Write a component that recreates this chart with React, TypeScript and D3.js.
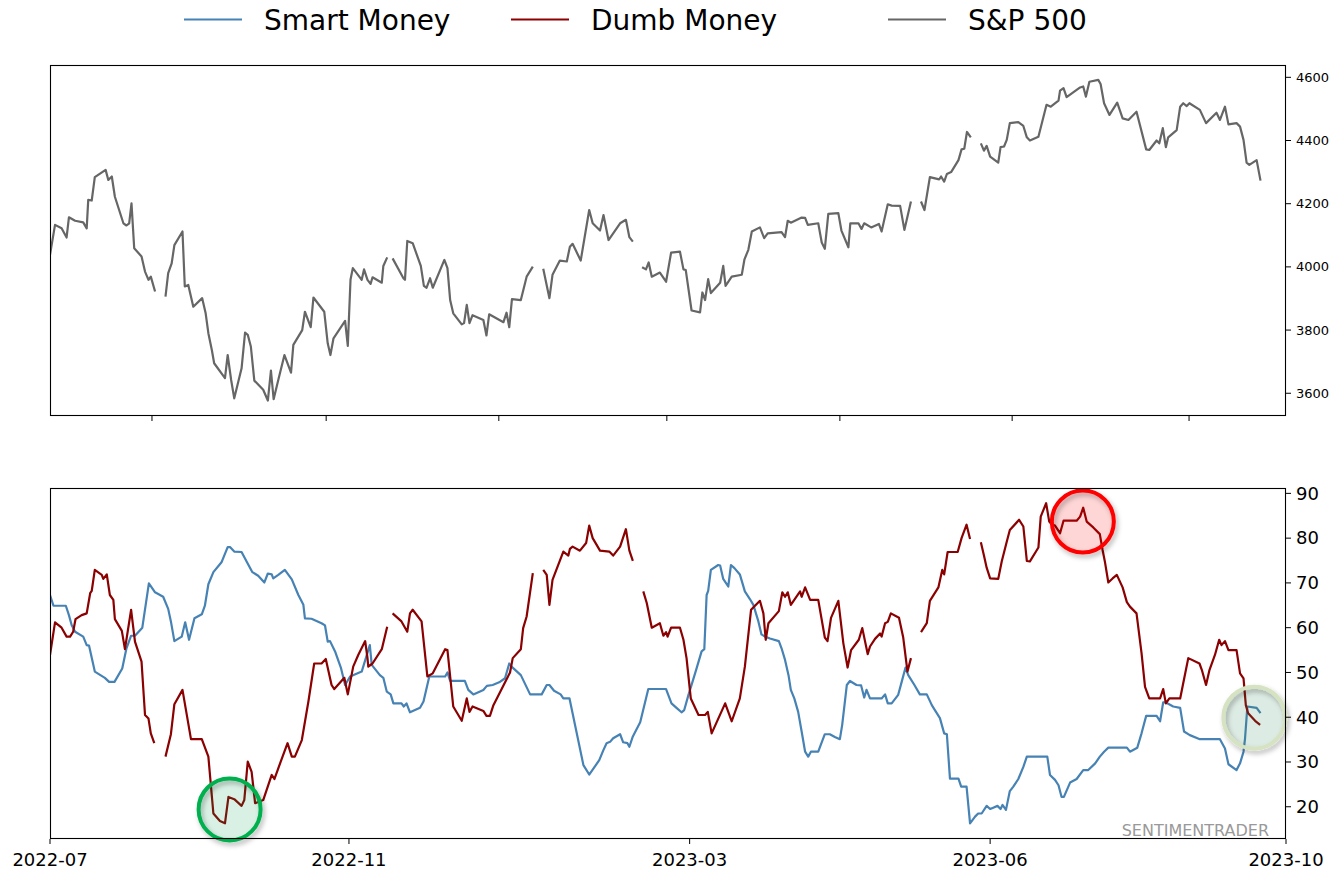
import React from "react";
import * as d3 from "d3";

type Pt = [number, number] | null;

// x values are trading-day indices from 2022-07-01
const spx: Pt[] = [
  [0,4038],[1.3,4133],[3.0,4122],[4.3,4093],[4.9,4157],[6.5,4146],[8.6,4141],[9.5,4122],[9.9,4212],[10.8,4210],
  [11.6,4284],[14.4,4307],[15.1,4275],[16.0,4286],[16.8,4222],[19.0,4138],[19.8,4131],[20.5,4138],[21.1,4201],[21.8,4059],
  [23.7,4033],[24.6,3985],[25.5,3959],[26.1,3969],[27.2,3922],null,
  [29.9,3906],[30.6,3980],[31.5,4011],[32.2,4069],[34.3,4112],[34.9,3938],[35.8,3943],[37.1,3874],[39.4,3901],[40.3,3853],
  [41.0,3790],[41.9,3737],[42.5,3695],[45.3,3648],[46.0,3721],[46.9,3642],[47.7,3584],[49.6,3679],[50.5,3792],[51.2,3785],
  [52.0,3748],[52.9,3640],[55.2,3611],[56.4,3577],[57.2,3672],[57.9,3581],[59.1,3642],[60.7,3721],[62.4,3665],[63.0,3753],
  [65.3,3800],[66.0,3858],[67.5,3809],[68.2,3903],[71.0,3858],[71.9,3758],[72.6,3721],[73.4,3774],[76.4,3829],[77.1,3750],
  [77.8,3959],[78.4,3996],[80.7,3959],[81.3,3992],[82.2,3959],[83.0,3946],[83.5,3967],[85.9,3950],[86.3,4003],[87.3,4030],null,
  [88.7,4027],[91.5,3964],[91.9,3959],[92.5,4082],[93.9,4075],[96.0,4003],[96.8,3940],[97.5,3934],[98.4,3964],[99.1,3934],
  [102.1,4022],[102.9,3996],[103.6,3895],[104.4,3853],[106.6,3818],[107.2,3822],[107.9,3880],[108.6,3822],[109.4,3847],[112.2,3832],
  [113.0,3783],[113.7,3850],[117.4,3825],[118.2,3855],[118.9,3809],[119.6,3898],[121.9,3895],[123.4,3969],[125.0,4001],null,
  [127.7,3994],[129.3,3901],[130.1,3975],[132.0,4020],[133.8,4017],[134.6,4064],[135.3,4073],[137.4,4020],[139.6,4180],[140.5,4138],
  [142.4,4115],[143.3,4164],[144.6,4085],[147.6,4138],[149.1,4149],[150.0,4094],[150.9,4080],null,
  [153.3,3999],[154.3,3992],[155.0,4014],[155.8,3969],[157.9,3982],[159.5,3953],[160.8,4045],[163.1,4048],[164.0,3992],[164.6,3990],
  [166.1,3862],[168.3,3856],[168.9,3919],[169.6,3895],[170.4,3961],[171.1,3917],[173.5,3950],[174.3,4003],[174.9,3940],[176.5,3969],
  [179.1,3975],[179.8,4024],[180.8,4054],[181.7,4112],[183.8,4125],[184.9,4091],[185.8,4106],[189.4,4110],[190.3,4094],[191.0,4146],
  [191.8,4140],[194.6,4156],[195.5,4155],[196.2,4133],[198.9,4138],[199.8,4077],[200.6,4057],[201.5,4168],[204.1,4170],[204.9,4115],
  [206.7,4062],[207.2,4138],[209.3,4138],[210.1,4120],[210.8,4138],[212.6,4125],[214.6,4136],[215.3,4112],[216.9,4198],[217.9,4194],
  [220.1,4193],[221.2,4117],[222.9,4207],null,
  [225.5,4207],[226.4,4180],[227.8,4284],[230.2,4277],[230.7,4286],[231.5,4270],[232.2,4294],[233.3,4300],[235.2,4338],[236.0,4372],
  [236.7,4374],[237.4,4427],[238.4,4410],null,
  [241.0,4391],[241.8,4368],[242.5,4383],[243.4,4349],[245.5,4330],[246.1,4379],[247.0,4381],[247.7,4402],[248.5,4455],[250.7,4458],
  [252.0,4446],[252.9,4410],[253.7,4400],[255.9,4412],[258.0,4513],[259.1,4507],[261.1,4526],[261.5,4558],[262.4,4566],[263.2,4537],
  [266.7,4568],[267.5,4571],[268.2,4539],[269.1,4586],[271.4,4592],[272.0,4579],[272.9,4518],[274.3,4481],[276.3,4520],[277.7,4470],
  [279.2,4465],[281.3,4491],[283.8,4372],[284.6,4370],[286.5,4400],[287.2,4391],[288.1,4439],[288.9,4379],[289.5,4410],[291.7,4433],
  [292.6,4507],[293.4,4518],[294.3,4509],[295.0,4518],[297.7,4497],[299.3,4455],[302.0,4488],[302.9,4465],[304.2,4507],[305.1,4451],
  [307.2,4455],[308.1,4444],[309.0,4402],[309.8,4330],[310.5,4323],[312.4,4338],[313.4,4273],
];

const smartMoney: Pt[] = [
  [0,67.3],[0.9,64.9],[4.1,64.9],[4.9,62.8],[5.6,60.6],[6.5,59.1],[8.6,58.0],[9.5,56.1],[10.1,56.0],[11.6,50.2],
  [14.2,48.8],[15.3,47.9],[16.7,47.9],[18.7,50.9],[19.8,55.4],[21.0,58.2],[22.0,58.2],[23.9,60.0],[25.6,69.9],[27.2,67.9],
  [29.3,66.9],[30.6,64.2],[31.3,61.4],[32.2,57.0],[34.1,58.0],[35.0,61.2],[36.0,57.3],[37.4,62.1],[39.3,63.0],[40.1,64.9],
  [41.0,69.7],[42.3,72.4],[44.4,74.6],[46.0,78.0],[46.6,78.0],[47.7,77.0],[49.6,76.9],[50.9,74.8],[52.4,72.4],[53.9,71.6],
  [55.5,70.1],[56.4,72.1],[57.4,71.9],[57.8,71.0],[59.1,71.8],[60.8,72.9],[62.6,70.8],[64.3,67.3],[65.6,65.1],[66.0,62.1],
  [67.7,62.0],[70.3,61.0],[71.2,60.5],[71.9,56.9],[72.5,57.0],[73.8,54.7],[75.3,51.1],[76.4,47.2],[77.7,49.1],[80.7,50.2],
  [82.8,56.1],[83.3,51.7],[85.4,49.4],[86.3,48.8],[87.2,45.7],[88.2,45.1],[88.9,43.1],[91.0,43.1],[91.6,42.4],[92.3,43.1],
  [93.2,41.1],[95.8,42.1],[96.7,43.5],[98.2,49.1],[102.3,49.1],[102.9,50.0],[103.6,48.1],[107.4,48.1],[108.3,46.1],[109.6,45.1],
  [112.2,46.1],[113.1,47.0],[114.6,47.2],[116.3,47.8],[117.8,48.7],[118.9,52.0],[119.5,51.3],[121.9,49.4],[124.3,45.1],[127.3,45.1],
  [128.6,47.2],[129.3,47.2],[130.5,45.9],[132.2,45.1],[132.9,44.2],[134.5,44.2],[138.1,29.3],[139.6,27.2],[142.2,30.4],[143.3,32.7],
  [144.1,34.2],[145.0,34.5],[145.8,35.3],[147.6,36.2],[148.4,34.4],[149.5,34.2],[150.0,33.4],[150.9,35.7],[152.8,38.9],[154.9,46.3],
  [159.5,46.3],[160.9,43.1],[162.2,42.1],[163.5,41.1],[164.2,41.6],[165.3,45.0],[166.3,47.8],[167.4,50.9],[168.7,54.7],[169.4,55.2],
  [170.0,67.3],[170.4,68.2],[171.1,72.9],[173.0,74.0],[173.5,73.9],[174.3,70.9],[175.6,69.2],[176.3,74.0],[177.2,73.3],[178.6,71.9],
  [179.9,68.1],[181.2,66.4],[182.1,65.1],[183.4,61.4],[184.2,58.5],[185.1,58.0],[186.4,57.6],[188.7,57.0],[189.4,55.4],[190.3,52.8],
  [191.2,49.4],[191.8,46.1],[192.7,44.2],[193.7,41.2],[194.6,36.8],[195.5,32.3],[196.3,31.2],[197.0,32.3],[198.9,32.3],[200.6,36.2],
  [201.9,36.2],[203.2,35.6],[204.5,35.1],[205.1,38.3],[206.3,47.2],[207.1,48.1],[208.8,47.2],[210.0,47.1],[210.8,44.4],[211.4,46.1],
  [212.3,44.2],[215.3,44.2],[216.2,45.1],[216.9,43.1],[217.9,43.1],[219.6,45.0],[220.5,47.9],[221.5,51.1],[222.2,49.4],[223.8,47.2],
  [225.2,45.1],[227.0,45.1],[228.3,42.7],[229.1,41.6],[230.4,39.8],[231.5,36.4],[232.2,36.2],[233.0,26.3],[235.2,26.3],[235.9,24.5],
  [237.3,24.5],[238.2,16.3],[239.5,17.8],[240.3,18.5],[241.2,18.5],[242.5,20.2],[243.4,19.5],[244.2,19.8],[245.3,20.2],[246.1,19.5],
  [246.6,20.4],[247.5,19.3],[248.5,23.5],[249.4,24.5],[250.7,26.2],[252.0,28.9],[252.9,31.2],[258.2,31.2],[258.9,27.1],[260.2,26.0],
  [261.1,24.8],[261.9,22.2],[262.5,22.2],[264.1,25.4],[265.8,26.2],[267.5,28.2],[268.8,28.2],[270.6,29.7],[271.8,31.2],[272.9,32.3],
  [274.0,33.2],[278.8,33.2],[279.6,32.3],[281.5,33.2],[282.6,36.4],[283.8,40.3],[286.5,40.3],[287.4,39.1],[288.2,43.3],[288.9,43.3],
  [290.8,42.4],[292.6,42.1],[293.6,36.8],[295.1,36.0],[297.7,35.1],[302.9,35.1],[304.2,33.0],[305.1,29.5],[307.2,28.2],[308.1,29.7],
  [309.0,32.3],[309.4,35.3],[310.0,42.4],[312.4,42.1],[313.4,40.9],
];

const dumbMoney: Pt[] = [
  [0,53.9],[1.3,61.2],[3.0,60.0],[4.3,58.0],[5.2,58.0],[6.0,59.1],[6.6,61.9],[8.2,62.8],[9.5,63.2],[10.4,67.7],
  [10.8,68.2],[11.6,72.9],[13.4,71.8],[13.8,70.9],[14.7,71.9],[15.5,67.3],[16.4,66.2],[16.8,61.9],[18.6,59.3],[19.4,55.2],
  [21.0,64.0],[22.0,56.9],[23.7,52.4],[24.6,40.5],[25.5,39.7],[26.1,36.4],[27.0,34.2],null,
  [29.9,31.2],[31.3,36.2],[32.2,42.9],[34.3,46.1],[36.5,35.1],[39.3,35.1],[41.0,31.2],[42.3,18.5],[44.0,16.8],[45.3,16.3],
  [46.2,22.2],[47.7,21.7],[49.6,20.2],[50.3,21.5],[51.2,30.1],[52.2,27.8],[53.1,20.8],[55.2,21.5],[57.4,27.1],[58.1,26.2],
  [59.1,28.6],[61.5,34.2],[62.6,31.2],[63.4,31.2],[65.2,34.9],[66.9,43.5],[68.4,52.0],[70.3,52.0],[71.4,53.0],[72.9,47.2],
  [73.6,46.3],[76.2,48.8],[77.1,45.1],[78.5,51.3],[79.8,53.9],[81.6,57.0],[82.2,53.2],[82.4,51.3],[83.5,52.0],[85.9,55.2],
  [87.3,60.2],null,
  [88.7,63.2],[91.0,61.4],[92.5,59.1],[93.2,63.2],[93.9,64.0],[96.2,61.4],[97.7,49.1],[99.1,49.8],[102.3,55.2],[102.9,55.0],
  [104.4,42.4],[106.6,39.2],[107.9,44.2],[108.6,41.2],[109.4,42.4],[112.2,41.4],[113.0,40.3],[113.9,40.3],[114.8,42.7],[119.1,50.0],
  [119.8,53.2],[121.9,55.2],[122.5,59.9],[123.4,62.5],[125.0,72.2],null,
  [127.7,72.9],[128.6,71.8],[129.3,65.1],[130.1,70.7],[132.9,77.0],[134.2,76.1],[134.6,77.6],[135.3,78.1],[137.2,77.2],[138.8,78.9],
  [139.6,82.8],[140.5,80.0],[142.4,77.2],[144.8,77.0],[145.8,76.1],[147.6,78.1],[149.1,82.0],[150.0,77.2],[150.9,74.9],null,
  [153.6,68.1],[154.5,65.5],[155.8,60.0],[157.9,61.0],[158.8,58.2],[159.5,59.0],[159.9,58.0],[160.8,60.0],[163.1,60.0],[164.0,57.3],
  [164.8,53.2],[165.9,44.2],[167.9,40.5],[169.6,40.5],[170.3,41.2],[171.3,36.4],[174.8,43.1],[176.5,39.1],[178.6,44.2],[179.9,51.3],
  [181.5,64.0],[183.8,66.0],[184.7,63.2],[185.3,57.3],[186.0,61.0],[188.7,63.7],[189.6,67.9],[190.3,66.9],[191.0,67.9],[191.8,65.1],
  [194.2,68.1],[194.6,66.9],[195.5,69.0],[196.8,66.2],[198.9,66.2],[200.6,57.8],[201.3,57.0],[202.2,62.2],[204.1,66.0],[205.4,56.5],
  [206.5,51.1],[207.4,55.0],[209.4,57.3],[210.3,59.9],[211.7,54.1],[212.3,55.8],[213.6,57.5],[214.9,58.7],[215.3,58.0],[216.2,61.0],
  [216.9,61.3],[217.7,63.2],[219.8,62.2],[220.9,57.8],[222.0,50.2],[222.9,53.2],null,
  [225.5,59.0],[227.0,61.0],[227.8,66.0],[230.0,69.0],[231.0,72.9],[231.5,71.9],[232.4,76.9],[235.0,76.9],[236.0,80.0],[237.3,83.0],
  [238.2,79.8],null,
  [241.0,79.1],[241.8,76.1],[242.5,73.4],[243.4,71.0],[245.5,70.9],[246.4,74.8],[247.7,79.2],[248.5,81.8],[250.9,84.1],[252.0,82.6],
  [252.9,74.9],[253.7,74.8],[255.9,77.9],[256.5,84.8],[257.9,87.8],[258.7,83.7],[259.3,83.1],[260.2,82.8],[261.5,81.1],[262.4,83.9],
  [265.8,83.9],[266.7,84.8],[267.5,86.8],[268.4,83.7],[270.1,82.4],[271.8,80.9],[272.5,77.4],[273.1,74.8],[274.0,70.1],[275.1,71.0],
  [276.2,71.8],[277.7,69.0],[278.8,65.7],[279.6,64.7],[281.3,63.2],[282.6,54.3],[283.5,46.8],[284.6,44.2],[287.4,44.2],[288.2,46.3],
  [288.9,43.1],[289.8,44.2],[292.6,44.2],[293.3,47.2],[294.7,53.2],[297.6,52.0],[298.2,50.6],[299.3,47.2],[300.2,50.6],[301.6,53.9],
  [302.7,57.3],[303.3,56.1],[304.2,57.0],[305.1,55.0],[307.2,55.0],[308.1,49.8],[309.0,48.7],[309.6,42.7],[310.2,40.9],[312.0,39.2],
  [313.3,38.3],
];

const topXTicks = [26.4, 71.5, 116.2, 159.7, 204.5, 249.1, 294.9];
const bottomXTicks = [0, 77.4, 165.6, 243.4, 320];
const bottomXLabels = ["2022-07", "2022-11", "2023-03", "2023-06", "2023-10"];
const spxTicks = [3600, 3800, 4000, 4200, 4400, 4600];
const sentTicks = [20, 30, 40, 50, 60, 70, 80, 90];

const legendItems = [
  { label: "Smart Money", color: "#4682b4" },
  { label: "Dumb Money", color: "#8b0000" },
  { label: "S&P 500", color: "#666666" },
];

const highlights = [
  { day: 46.5, value: 19.4, stroke: "#00b050", fill: "#00a050", fillOpacity: 0.15 },
  { day: 267.4, value: 83.7, stroke: "#ff0000", fill: "#ff0000", fillOpacity: 0.16 },
  { day: 311.8, value: 39.9, stroke: "#d5e3c2", fill: "#2e8b57", fillOpacity: 0.17 },
];

const FONT = "DejaVu Sans, sans-serif";

export default function App() {
  const L = 50, R = 1286;
  const topY0 = 65, topY1 = 416;
  const botY0 = 488, botY1 = 839;

  const x = d3.scaleLinear().domain([0, 320]).range([L, R]);
  const yTop = d3.scaleLinear().domain([3528, 4639]).range([topY1, topY0]);
  const yBot = d3.scaleLinear().domain([12.8, 91.2]).range([botY1, botY0]);

  const mkLine = (y: d3.ScaleLinear<number, number>) =>
    d3
      .line<Pt>()
      .defined((p) => p !== null)
      .x((p) => x((p as [number, number])[0]))
      .y((p) => y((p as [number, number])[1]));

  const topLine = mkLine(yTop);
  const botLine = mkLine(yBot);

  const legendX = [184, 511, 888];

  return (
    <svg
      width={1336}
      height={872}
      style={{ position: "absolute", left: 0, top: 0, background: "#fff" }}
      fontFamily={FONT}
    >
      <defs>
        <filter id="shadow" x="-30%" y="-30%" width="160%" height="160%">
          <feDropShadow dx="2" dy="3" stdDeviation="2.5" floodColor="#000" floodOpacity="0.3" />
        </filter>
        <clipPath id="clipTop">
          <rect x={L} y={topY0} width={R - L} height={topY1 - topY0} />
        </clipPath>
        <clipPath id="clipBot">
          <rect x={L} y={botY0} width={R - L} height={botY1 - botY0} />
        </clipPath>
      </defs>
      <rect x={0} y={0} width={1336} height={872} fill="#fff" />

      {/* Legend */}
      {legendItems.map((it, i) => (
        <g key={it.label}>
          <line x1={legendX[i]} x2={legendX[i] + 58} y1={19.5} y2={19.5} stroke={it.color} strokeWidth={2.2} />
          <text x={legendX[i] + 80} y={30} fontSize={28} fill="#000">
            {it.label}
          </text>
        </g>
      ))}

      {/* Top panel */}
      <path d={topLine(spx) || ""} fill="none" stroke="#666666" strokeWidth={2.2} clipPath="url(#clipTop)" strokeLinejoin="round" />
      <rect x={L + 0.5} y={topY0 + 0.5} width={R - L - 1} height={topY1 - topY0 - 1} fill="none" stroke="#000" strokeWidth={1.1} />
      {topXTicks.map((t) => (
        <line key={t} x1={x(t)} x2={x(t)} y1={topY1} y2={topY1 + 5} stroke="#000" strokeWidth={1} />
      ))}
      {spxTicks.map((t) => (
        <g key={t}>
          <line x1={R} x2={R + 5} y1={yTop(t)} y2={yTop(t)} stroke="#000" strokeWidth={1} />
          <text x={R + 10} y={yTop(t)} dy="0.35em" fontSize={13} fill="#000">
            {t}
          </text>
        </g>
      ))}

      {/* Bottom panel */}
      <g clipPath="url(#clipBot)">
        <path d={botLine(smartMoney) || ""} fill="none" stroke="#4682b4" strokeWidth={2.2} strokeLinejoin="round" />
        <path d={botLine(dumbMoney) || ""} fill="none" stroke="#8b0000" strokeWidth={2.2} strokeLinejoin="round" />
      </g>
      <text x={1269} y={835.5} textAnchor="end" fontSize={16} fill="#999999">
        SENTIMENTRADER
      </text>
      {highlights.map((h, i) => (
        <g key={i}>
          <circle cx={x(h.day)} cy={yBot(h.value)} r={31} fill={h.fill} fillOpacity={h.fillOpacity} />
          <circle cx={x(h.day)} cy={yBot(h.value)} r={31} fill="none" stroke={h.stroke} strokeWidth={4} filter="url(#shadow)" />
        </g>
      ))}
      <rect x={L + 0.5} y={botY0 + 0.5} width={R - L - 1} height={botY1 - botY0 - 1} fill="none" stroke="#000" strokeWidth={1.1} />
      {bottomXTicks.map((t, i) => (
        <g key={t}>
          <line x1={x(t)} x2={x(t)} y1={botY1} y2={botY1 + 5} stroke="#000" strokeWidth={1} />
          <text x={x(t)} y={866} textAnchor="middle" fontSize={18} fill="#000">
            {bottomXLabels[i]}
          </text>
        </g>
      ))}
      {sentTicks.map((t) => (
        <g key={t}>
          <line x1={R} x2={R + 5} y1={yBot(t)} y2={yBot(t)} stroke="#000" strokeWidth={1} />
          <text x={R + 10} y={yBot(t)} dy="0.35em" fontSize={18} fill="#000">
            {t}
          </text>
        </g>
      ))}
    </svg>
  );
}
